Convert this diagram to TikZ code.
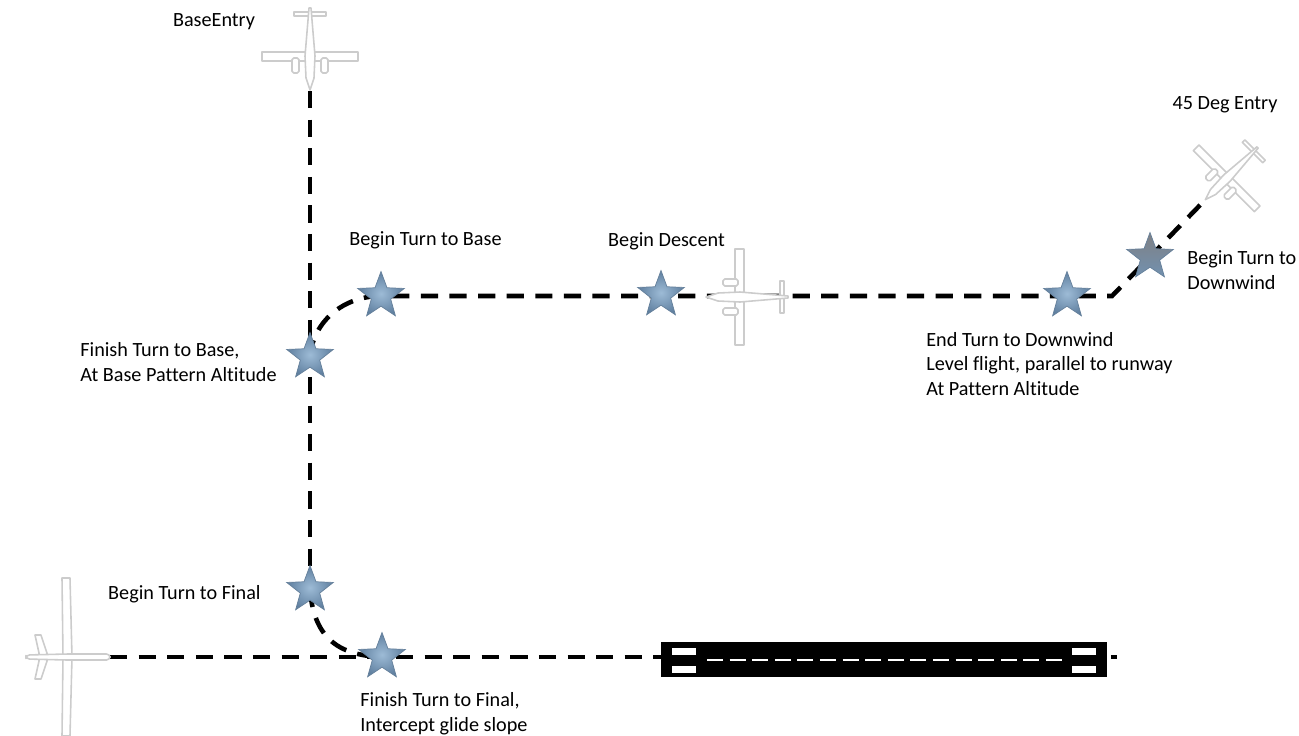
\documentclass[tikz,border=0pt]{standalone}
\usepackage{fontspec}
\setmainfont[Ligatures=NoCommon]{Carlito}
\usepackage{xcolor}
\usetikzlibrary{shapes.geometric,positioning,backgrounds}
\definecolor{starblue}{HTML}{5F7F9F}
\definecolor{starpale}{HTML}{9DBBD6}
\definecolor{stargrey}{HTML}{7F8084}

\begin{document}
\begin{tikzpicture}[x=0.02cm,y=-0.02cm,font=\fontsize{11.5pt}{13.95pt}\selectfont]
  \useasboundingbox (0,0) rectangle (1299,735);
  \tikzset{
    wp/.style={star,star points=5,star point ratio=2.4,minimum size=0.98cm,inner sep=0,
      draw=starblue!85!gray,inner color=starpale,outer color=starblue},
    wpgrey/.style={wp,inner color=starpale,top color=stargrey,bottom color=starblue!70!starpale},
    lbl/.style={inner sep=0,align=left},
    track/.style={line width=2.6pt,dash pattern=on 0.344cm off 0.228cm},
    planeline/.style={draw=black!20,fill=white,line width=0.9pt,line join=round},
    bar/.style={fill=white,minimum width=0.47cm,minimum height=0.14cm,inner sep=0},
    plane/.pic={
      \draw[planeline] (-4,-48) rectangle (5,48);
      \draw[planeline] (-44,-16) rectangle (-40,16);
      \draw[planeline,rounded corners=1pt] (2,-18) rectangle (17,-11);
      \draw[planeline,rounded corners=1pt] (2,11) rectangle (17,18);
      \draw[planeline] (34,0) -- (22,-4) -- (0,-5) -- (-48,-1) -- (-48,1) -- (0,5) -- (22,4) -- cycle;
      \coordinate (-nose) at (35,0);
    },
    drone/.pic={
      \draw[planeline] (-5,-79) -- (3,-79) -- (5,0) -- (3,79) -- (-5,79) -- (-4,0) -- cycle;
      \draw[planeline] (-32,-22) -- (-26,-22) -- (-20,-4) -- (-20,4) -- (-26,22) -- (-32,22) -- (-28,4) -- (-28,-4) -- cycle;
      \draw[planeline,rounded corners=2pt] (43,-3) -- (0,-3) -- (-41,-2) -- (-41,2) -- (0,3) -- (43,3) -- cycle;
      \coordinate (-nose) at (43,0);
    }
  }
  % aircraft
  \pic (pBase) at (310,56) [rotate=-90] {plane};
  \pic (pEntry) at (1227,178) [rotate=225,scale=0.9] {plane};
  \pic (pDescent) at (740,297) [rotate=180] {plane};
  \pic (pFinal) at (67,657) {drone};

  % waypoints
  \node[wp] (sBase) at (381,296) {};
  \node[wp] (sMid) at (310,357) {};
  \node[wp] (sDescent) at (661,295) {};
  \node[wp] (sWind) at (1067,296) {};
  \node[wpgrey] (sTurn) at (1150,257) {};
  \node[wp] (sFinal) at (310,590) {};
  \node[wp] (sLand) at (382,657) {};

  % runway
  \node[fill=black,minimum width=8.92cm,minimum height=0.7cm,inner sep=0] (rwy) at (884,659.5) {};
  \node[bar] (bA) at (684,651.5) {};
  \node[bar] (bB) at (684,669.5) {};
  \node[bar] (bC) at (1084,651.5) {};
  \node[bar] (bD) at (1084,669.5) {};
  \coordinate (cA) at (707,660);
  \coordinate (cB) at (1062,660);
  \coordinate (cC) at (1117,657);
  \coordinate (cD) at (1112,296);
  \draw[white,line width=0.8pt,dash pattern=on 0.32cm off 0.132cm] (cA) -- (cB);

  % pattern tracks, under the stars
  \begin{scope}[on background layer]
    \draw[track] (pBase-nose) -- (sFinal.center);
    \draw[track] (sMid.center) to[out=85,in=180] (sBase.center) -- (cD) -- (pEntry-nose);
    \draw[track] (sFinal.center) to[out=-85,in=178,looseness=1.2] (sLand.center);
    \draw[track] (pFinal-nose) -- (cC);
  \end{scope}

  % labels
  \node[lbl] (tBase) at (214,22) {BaseEntry};
  \node[lbl] (tEntry) at (1225,105) {45 Deg Entry};
  \node[lbl,above=0.94cm of sBase.center,xshift=0.89cm] (tTurn) {Begin Turn to Base};
  \node[lbl,above=0.9cm of sDescent.center,xshift=0.11cm] (tDescent) {Begin Descent};
  \node[lbl,right=0.74cm of sTurn.center,yshift=-0.26cm] (tDown) {Begin Turn to\\Downwind};
  \node[lbl,left=0.66cm of sMid.center,yshift=-0.1cm] (tMid) {Finish Turn to Base,\\At Base Pattern Altitude};
  \node[lbl,below=0.72cm of sWind.center,xshift=-0.27cm,anchor=north west,xshift=-2.55cm] (tWind) {End Turn to Downwind\\Level flight, parallel to runway\\At Pattern Altitude};
  \node[lbl,left=0.98cm of sFinal.center,yshift=-0.08cm] (tFinal) {Begin Turn to Final};
  \node[lbl,below=0.71cm of sLand.center,anchor=north west,xshift=-0.44cm] (tLand) {Finish Turn to Final,\\Intercept glide slope};
\end{tikzpicture}
\end{document}
